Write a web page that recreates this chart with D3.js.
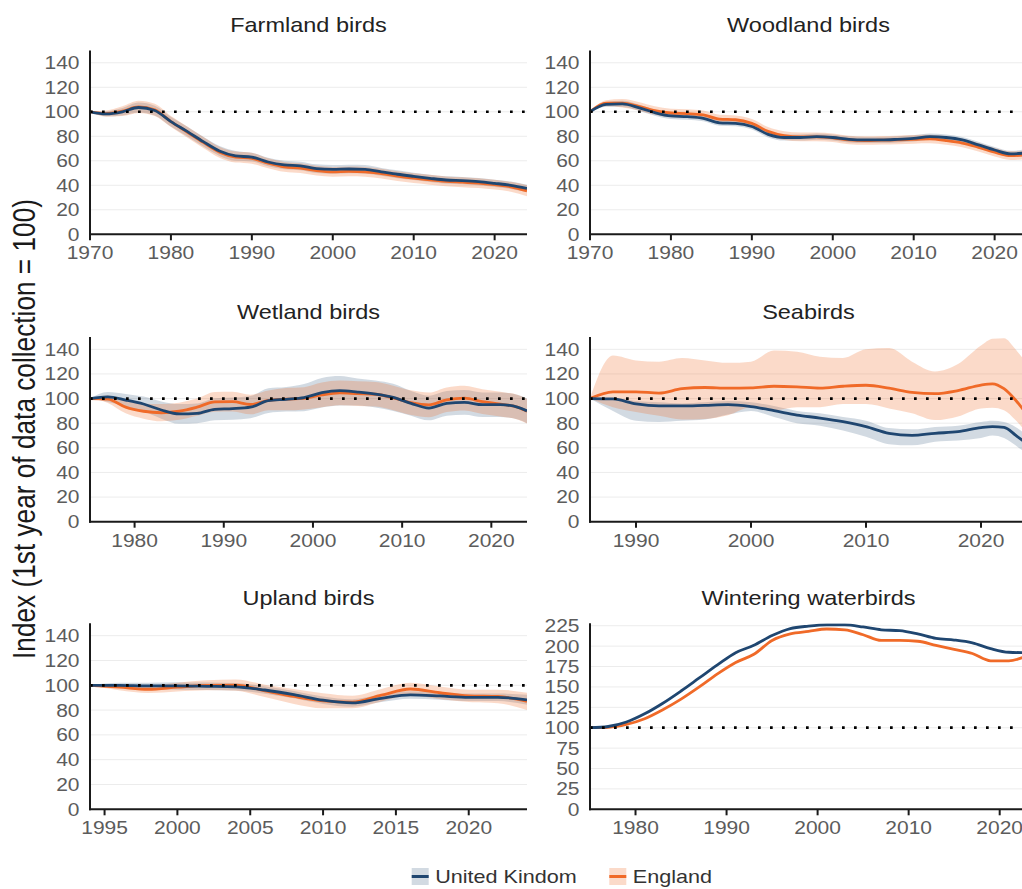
<!DOCTYPE html>
<html><head><meta charset="utf-8">
<script src="https://cdn.jsdelivr.net/npm/d3@7"></script>
<style>
body{margin:0;background:#fff}
svg{display:block;font-family:"Liberation Sans",Arial,sans-serif}
</style>
</head><body>
<svg id="chart" width="1022" height="889"></svg>
<script>
// ---------------- DATA ----------------
const seriesNames = ["United Kindom", "England"];
const yAxisTitle = "Index (1st year of data collection = 100)";
const panelTitles = ["Farmland birds", "Woodland birds", "Wetland birds", "Seabirds", "Upland birds", "Wintering waterbirds"];

const farmlandYears = [1970,1972,1974,1976,1978,1980,1982,1984,1986,1988,1990,1992,1994,1996,1998,2000,2002,2004,2006,2008,2010,2012,2014,2016,2018,2020,2022,2024];
const farmlandUK   = [100,98.3,100,103.5,101,92,84,75.6,68,64,63,59,56.6,55.8,53.6,53,53.3,53,51,49,47.3,45.7,44.3,43.8,43,41.6,40,37.5];
const farmlandUKLo = [100,96.3,97,99.5,97,88,80,71.6,64,60,59.5,55.5,53.1,52.3,50.1,49.5,49.8,49.5,47.8,45.8,44.3,42.7,41.3,40.8,40,38.6,37,34.5];
const farmlandUKHi = [100,100.3,103,107.5,105,96,88,79.6,72,68,66.5,62.5,60.1,59.3,57.1,56.5,56.8,56.5,54.2,52.2,50.3,48.7,47.3,46.8,46,44.6,43,40.5];
const farmlandEN   = [100,98.5,100.5,104,101.5,92,83.5,75,67,63,62,58,55,54,52,51,51.3,51,49.5,47.5,45.8,44.5,43.2,42.5,41.8,40.5,38.8,35.5];
const farmlandENLo = [100,96,96.5,99,96.5,87.5,79,70.5,62.5,58.5,57.5,54,51,50,48,47,47.3,47,45.5,43.5,41.8,40.5,39.2,38.5,37.8,36.5,34.8,31];
const farmlandENHi = [100,101,104.5,109,106.5,96.5,88,79.5,71.5,67.5,66.5,62,59,58,56,55,55.3,55,53.5,51.5,49.8,48.5,47.2,46.5,45.8,44.5,42.8,40];

const woodlandYears = [1970,1972,1974,1976,1978,1980,1982,1984,1986,1988,1990,1992,1994,1996,1998,2000,2002,2004,2006,2008,2010,2012,2014,2016,2018,2020,2022,2024];
const woodlandUK   = [100,106,106.4,103.4,99.3,96.6,96,94.7,91,90.6,88,81.6,79,79,79.7,79,77.5,77,77,77.5,78.3,79.7,79,77,73,68.8,65.6,66.6];
const woodlandUKLo = [100,104,103.9,100.9,96.8,94.1,93.5,92.2,88.5,88.1,85.5,79.1,76.5,76.5,77.2,76.5,75,74.5,74.5,75,75.8,77.2,76.5,74.5,70.5,66.3,63.1,63.6];
const woodlandUKHi = [100,108,108.9,105.9,101.8,99.1,98.5,97.2,93.5,93.1,90.5,84.1,81.5,81.5,82.2,81.5,80,79.5,79.5,80,80.8,82.2,81.5,79.5,75.5,71.3,68.1,69.6];
const woodlandEN   = [100,107,107,104.5,101,99,98.5,97.5,94,93.5,90.5,84,80.5,79.5,79.5,78.8,77,76.5,76.8,77,77.5,77.8,76.5,74.5,71,67,64.2,64.8];
const woodlandENLo = [100,104.5,103.5,101,97.5,95.5,95,94,90.5,90,87,80.5,77,76,76,75.3,73.5,73,73.3,73.5,74,74.3,73,71,67.5,63.5,60.7,61.3];
const woodlandENHi = [100,109.5,110.5,108,104.5,102.5,102,101,97.5,97,94,87.5,84,83,83,82.3,80.5,80,80.3,80.5,81,81.3,80,78,74.5,70.5,67.7,68.3];

const wetlandYears = [1975,1977,1979,1981,1983,1985,1987,1989,1991,1993,1995,1997,1999,2001,2003,2005,2007,2009,2011,2013,2015,2017,2019,2021,2023,2024];
const wetlandUK   = [100,101.3,98.8,95.6,90.7,87.5,88,91.3,91.8,93,98.3,99.4,100.8,104.8,106.4,105.3,103.7,101,96.1,92.3,96.1,96.9,95,95,92.9,90];
const wetlandUKLo = [100,97.3,93.8,89.6,83.7,79.5,80,82.3,82.8,84,88.3,89.4,89.8,92.8,94.4,94.3,92.7,90,86.1,82.3,86.1,86.9,85,85,82.9,80];
const wetlandUKHi = [100,105.3,103.8,101.6,97.7,95.5,96,100.3,100.8,102,108.3,109.4,111.8,116.8,118.4,116.3,114.7,112,106.1,102.3,106.1,106.9,105,105,102.9,100];
const wetlandEN   = [100,99.5,93,89.7,88.5,89.7,93,97.3,97.5,95.2,98.5,99.5,100.2,103,104.6,104,103.5,100.5,96.7,94.9,99,100.4,97.5,95.5,92.8,89.7];
const wetlandENLo = [100,96.5,88,83.7,81.5,82.7,86,89.3,89.5,87.2,90.5,90.5,91.2,93,94.6,94,93.5,90.5,86.7,84.9,89,90.4,87.5,85.5,82.8,79.7];
const wetlandENHi = [100,102.5,98,95.7,95.5,96.7,100,105.3,105.5,103.2,106.5,108.5,109.2,113,114.6,114,113.5,110.5,106.7,104.9,109,110.4,107.5,105.5,102.8,99.7];

const seabirdYears = [1986,1988,1990,1992,1994,1996,1998,2000,2002,2004,2006,2008,2010,2012,2014,2016,2018,2020,2021,2022,2023,2024];
const seabirdUK   = [100,99.7,95.6,94,94,94.5,95,93.4,90.2,86.6,84.2,81.2,77.2,71.8,70.1,71.8,73.1,76.4,77.2,76.6,70.4,63];
const seabirdUKLo = [100,90,82,81,82,83,87,90,85,80,78,74,69,63,62,65,66,68,70,68,62,55];
const seabirdUKHi = [100,100.5,98,97,96,97,98,97,94,90,88,85,82,76,75,77,78,81,82,81,77,70];
const seabirdEN   = [100,105.5,105.5,104.5,108,109,108.5,108.7,110,109.5,108.5,110,110.8,108.5,105,104,106.5,111,112,108,98.8,87];
const seabirdENLo = [100,93,89,86,83,83.5,86.5,93,90.5,93,93,95.5,95.5,92,88,82.5,85.5,92,92.5,90.5,82.5,72];
const seabirdENHi = [100,135,131,130,133,131,129,130,139,138,134,133,140,141,130,122,128,143,148.5,149,140,128];

const uplandYears = [1994,1996,1998,2000,2002,2004,2006,2008,2010,2012,2014,2016,2018,2020,2022,2024];
const uplandUK   = [100,100,99.5,99.5,99.2,98.8,96.2,92.5,88,85.8,89.5,92.2,91.4,90.3,90.3,88.3];
const uplandUKLo = [100,98,97,96.5,96.2,95.8,93.2,89.5,85,82.8,86.5,89.2,88.4,87.3,87.3,84.3];
const uplandUKHi = [100,102,102,102.5,102.2,101.8,99.2,95.5,91,88.8,92.5,95.2,94.4,93.3,93.3,92.3];
const uplandEN   = [100,98.5,96.8,98.5,100,100.2,95.5,91,87.5,86.5,92,97,94,91.5,91,87];
const uplandENLo = [100,96,93.8,95,96,95.7,90.5,85,81.5,81.5,87,92,89,86.5,85.5,80];
const uplandENHi = [100,101,99.8,102,104,104.7,100.5,97,93.5,91.5,97,102,99,96.5,96.5,94];

const winteringYears = [1975,1977,1979,1981,1983,1985,1987,1989,1991,1993,1995,1997,1999,2001,2003,2005,2007,2009,2011,2013,2015,2017,2019,2021,2023];
const winteringUK = [100,101.5,107,117,130,145,161,177,192,201,213,221.5,224.5,226,226,223.5,220,219,215,209.5,207.5,204,197,192.5,192];
const winteringEN = [100,100.5,104,111,122,135,150,166,180,190,207,215,218,221,220,214,207,207,206,201,196,191,182,182,188];

const ticks150 = [0,20,40,60,80,100,120,140];
const ticks225 = [0,25,50,75,100,125,150,175,200,225];
const decadeTicks = [1970,1980,1990,2000,2010,2020];
const uplandTicks = [1995,2000,2005,2010,2015,2020];

// ---------------- LAYOUT / STYLE ----------------
const SY = 0.86;
const colorUK = "#1f4670", colorEN = "#f06a28";
const colX = [90, 590], plotW = 437;
const rowTop = [50.5, 337, 623.3], rowBot = [234.3, 521.7, 809.3];

const panels = [
  {title: panelTitles[0], years: farmlandYears, uk: farmlandUK, ukLo: farmlandUKLo, ukHi: farmlandUKHi, en: farmlandEN, enLo: farmlandENLo, enHi: farmlandENHi, xd: [1970, 2024], xt: decadeTicks, ymax: 150, yt: ticks150, col: 0, row: 0},
  {title: panelTitles[1], years: woodlandYears, uk: woodlandUK, ukLo: woodlandUKLo, ukHi: woodlandUKHi, en: woodlandEN, enLo: woodlandENLo, enHi: woodlandENHi, xd: [1970, 2024], xt: decadeTicks, ymax: 150, yt: ticks150, col: 1, row: 0},
  {title: panelTitles[2], years: wetlandYears, uk: wetlandUK, ukLo: wetlandUKLo, ukHi: wetlandUKHi, en: wetlandEN, enLo: wetlandENLo, enHi: wetlandENHi, xd: [1975, 2024], xt: decadeTicks.slice(1), ymax: 150, yt: ticks150, col: 0, row: 1},
  {title: panelTitles[3], years: seabirdYears, uk: seabirdUK, ukLo: seabirdUKLo, ukHi: seabirdUKHi, en: seabirdEN, enLo: seabirdENLo, enHi: seabirdENHi, xd: [1986, 2024], xt: decadeTicks.slice(2), ymax: 150, yt: ticks150, col: 1, row: 1},
  {title: panelTitles[4], years: uplandYears, uk: uplandUK, ukLo: uplandUKLo, ukHi: uplandUKHi, en: uplandEN, enLo: uplandENLo, enHi: uplandENHi, xd: [1994, 2024], xt: uplandTicks, ymax: 150, yt: ticks150, col: 0, row: 2},
  {title: panelTitles[5], years: winteringYears, uk: winteringUK, en: winteringEN, xd: [1975, 2023], xt: decadeTicks.slice(1), ymax: 228, yt: ticks225, col: 1, row: 2}
];

const svg = d3.select("#chart");
svg.append("rect").attr("width", 1022).attr("height", 889).attr("fill", "#fff");
const defs = svg.append("defs");

function htext(g, x, y, str, size, anchor, fill) {
  return g.append("text")
    .attr("transform", `translate(${x},${y}) scale(1,${SY})`)
    .attr("text-anchor", anchor).attr("font-size", size).attr("fill", fill).text(str);
}

panels.forEach((p, i) => {
  const x0 = colX[p.col], x1 = x0 + plotW, top = rowTop[p.row], bot = rowBot[p.row];
  const x = d3.scaleLinear().domain(p.xd).range([x0, x1]);
  const y = d3.scaleLinear().domain([0, p.ymax]).range([bot, top]);
  const g = svg.append("g");

  defs.append("clipPath").attr("id", "clip" + i).append("rect")
    .attr("x", x0).attr("y", top).attr("width", plotW).attr("height", bot - top);

  // gridlines
  g.append("g").selectAll("line").data(p.yt.filter(t => t > 0)).join("line")
    .attr("x1", x0).attr("x2", x1).attr("y1", d => y(d)).attr("y2", d => y(d))
    .attr("stroke", "#ececec").attr("stroke-width", 1);

  const plot = g.append("g").attr("clip-path", `url(#clip${i})`);
  const idx = d3.range(p.years.length);

  const area = (lo, hi) => d3.area().curve(d3.curveMonotoneX)
    .x(j => x(p.years[j])).y0(j => y(lo[j])).y1(j => y(hi[j]));
  const line = vals => d3.line().curve(d3.curveMonotoneX)
    .x(j => x(p.years[j])).y(j => y(vals[j]));

  if (p.ukLo) {
    plot.append("path").attr("d", area(p.ukLo, p.ukHi)(idx)).attr("fill", colorUK).attr("fill-opacity", 0.2);
    plot.append("path").attr("d", area(p.enLo, p.enHi)(idx)).attr("fill", colorEN).attr("fill-opacity", 0.25);
  }
  plot.append("path").attr("d", line(p.en)(idx)).attr("fill", "none").attr("stroke", colorEN).attr("stroke-width", 2.8).attr("stroke-linejoin", "round");
  plot.append("path").attr("d", line(p.uk)(idx)).attr("fill", "none").attr("stroke", colorUK).attr("stroke-width", 2.8).attr("stroke-linejoin", "round");

  // reference line at 100
  g.append("line").attr("x1", x0).attr("x2", x1).attr("y1", y(100)).attr("y2", y(100))
    .attr("stroke", "#000").attr("stroke-width", 2.7).attr("stroke-dasharray", "2.7 9.3");

  // axes
  g.append("line").attr("x1", x0).attr("x2", x0).attr("y1", top).attr("y2", bot + 1)
    .attr("stroke", "#1a1a1a").attr("stroke-width", 2);
  g.append("line").attr("x1", x0 - 1).attr("x2", x1).attr("y1", bot).attr("y2", bot)
    .attr("stroke", "#1a1a1a").attr("stroke-width", 2);
  g.append("g").selectAll("line").data(p.xt).join("line")
    .attr("x1", d => x(d)).attr("x2", d => x(d)).attr("y1", bot).attr("y2", bot + 6)
    .attr("stroke", "#1a1a1a").attr("stroke-width", 2);

  p.xt.forEach(t => htext(g, x(t), bot + 25, String(t), 21, "middle", "#5c5c5c"));
  p.yt.forEach(t => htext(g, x0 - 10.5, y(t) + 6.4, String(t), 21, "end", "#5c5c5c"));

  htext(g, (x0 + x1) / 2, top - 18.5, p.title, 23.5, "middle", "#222");
});

// y axis title
svg.append("text")
  .attr("transform", `translate(35,429) rotate(-90) scale(${SY},1)`)
  .attr("text-anchor", "middle").attr("font-size", 30.5).attr("fill", "#1a1a1a")
  .text(yAxisTitle);

// legend
const legendX = [411.7, 609.3];
const legendColors = [colorUK, colorEN];
const legendAlpha = [0.2, 0.25];
seriesNames.forEach((name, k) => {
  const lg = svg.append("g");
  lg.append("rect").attr("x", legendX[k]).attr("y", 868).attr("width", 17).attr("height", 17)
    .attr("fill", legendColors[k]).attr("fill-opacity", legendAlpha[k]);
  lg.append("line").attr("x1", legendX[k]).attr("x2", legendX[k] + 17).attr("y1", 876.5).attr("y2", 876.5)
    .attr("stroke", legendColors[k]).attr("stroke-width", 3);
  htext(lg, legendX[k] + 23.5, 883.3, name, 21.6, "start", "#333");
});
</script>
</body></html>
